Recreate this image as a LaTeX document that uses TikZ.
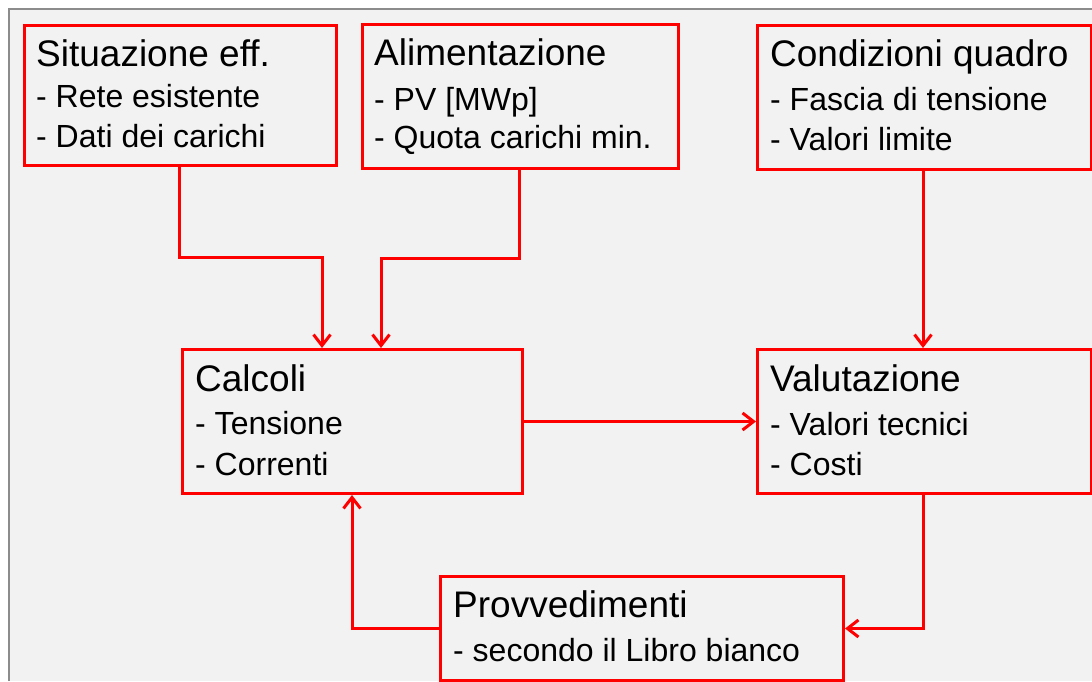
\documentclass[tikz,border=0pt]{standalone}
\usepackage{fontspec}
\setmainfont{Liberation Sans}
\usetikzlibrary{arrows.meta}
\definecolor{bgc}{RGB}{242,242,242}
\definecolor{framec}{RGB}{140,140,140}
\definecolor{redc}{RGB}{255,0,0}
\tikzset{
  box/.style={draw=redc, line width=3pt, fill=bgc, anchor=north west, inner sep=0pt},
  conn/.style={draw=redc, line width=3pt, -{Straight Barb[length=11pt,width=17pt]}},
  ttl/.style={anchor=base west, inner sep=0pt, font=\fontsize{37}{40}\selectfont},
  sub/.style={anchor=base west, inner sep=0pt, font=\fontsize{32}{36}\selectfont},
}
\begin{document}
\begin{tikzpicture}[x=1pt,y=-1pt]
\useasboundingbox (0,0) rectangle (1092,681);
\fill[white] (0,0) rectangle (1092,681);
\fill[bgc] (9,9) rectangle (1092,681);
\draw[framec, line width=2pt] (9,681) -- (9,9) -- (1092,9);

% boxes
\node[box, minimum width=312pt, minimum height=140pt] (s) at (23,24) {};
\node[box, minimum width=316pt, minimum height=144pt] (a) at (361,23) {};
\node[box, minimum width=334pt, minimum height=144pt] (c) at (756,24) {};
\node[box, minimum width=340pt, minimum height=144pt] (calc) at (181,348) {};
\node[box, minimum width=334pt, minimum height=144pt] (val) at (756,348) {};
\node[box, minimum width=403pt, minimum height=104pt] (p) at (439,575) {};

% texts
\node[ttl] (st) at (36,66) {Situazione eff.};
\node[sub] (s1t) at (36,107) {- Rete esistente};
\node[sub] (s2t) at (36,147) {- Dati dei carichi};

\node[ttl] (at) at (374,65) {Alimentazione};
\node[sub] (a1t) at (374,110) {- PV [MWp]};
\node[sub] (a2t) at (374,148) {- Quota carichi min.};

\node[ttl] (ct) at (770,66) {Condizioni quadro};
\node[sub] (c1t) at (770,110) {- Fascia di tensione};
\node[sub] (c2t) at (770,150) {- Valori limite};

\node[ttl] (calct) at (195,391) {Calcoli};
\node[sub] (calc1t) at (195,434) {- Tensione};
\node[sub] (calc2t) at (195,475) {- Correnti};

\node[ttl] (valt) at (770,391) {Valutazione};
\node[sub] (val1t) at (770,435) {- Valori tecnici};
\node[sub] (val2t) at (770,475) {- Costi};

\node[ttl] (pt) at (453,617) {Provvedimenti};
\node[sub] (p1t) at (453,661) {- secondo il Libro bianco};

% helper coordinates
\coordinate (sx) at (179,0);
\coordinate (m1) at (322,257);
\coordinate (ax) at (519,0);
\coordinate (m2) at (381,258);
\coordinate (cx) at (923,0);
\coordinate (bx) at (352,0);

% connectors
\draw[conn] (s.south -| sx) |- (m1) -- (calc.north -| m1);
\draw[conn] (a.south -| ax) |- (m2) -- (calc.north -| m2);
\draw[conn] (c.south -| cx) -- (val.north -| cx);
\draw[conn] (calc.east) -- (val.west);
\draw[conn] (val.south -| cx) |- (p.east);
\draw[conn] (p.west) -| (calc.south -| bx);
\end{tikzpicture}
\end{document}
